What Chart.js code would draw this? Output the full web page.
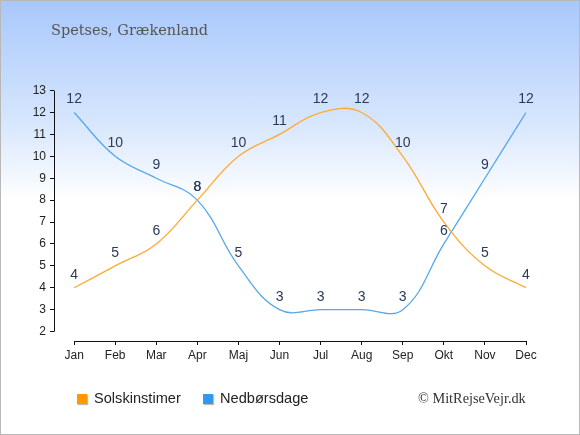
<!DOCTYPE html>
<html>
<head>
<meta charset="utf-8">
<script src="https://cdn.jsdelivr.net/npm/chart.js@4"></script>
<style>
  html, body { margin: 0; padding: 0; }
  #wrap {
    position: relative; width: 580px; height: 435px; box-sizing: border-box;
    border: 1px solid #b8b8b8; overflow: hidden;
    background: linear-gradient(to bottom, #a8c8fb 0px, #d6e6fd 120px, #ffffff 200px, #ffffff 435px);
  }
  #chart { position: absolute; left: -1px; top: -1px; }
  .title { position: absolute; left: 50px; top: 21px; font: 14.5px "DejaVu Serif", serif; color: #555; }
  .legend { position: absolute; top: 389px; font: 14.6px "Liberation Sans", Arial, sans-serif; color: #222; }
  .legend span.box { display: inline-block; width: 10px; height: 10px; margin-right: 7px; vertical-align: -1px; box-shadow: 1px 1px 1px #bbb; }
  .copy { position: absolute; left: 417px; top: 389px; font: 14.3px "Liberation Serif", serif; color: #333; }
</style>
</head>
<body>
<div id="wrap">
  <canvas id="chart" width="580" height="435"></canvas>
  <div class="title">Spetses, Grækenland</div>
  <div class="legend" style="left:76px"><span class="box" style="background:#ff9900"></span>Solskinstimer</div>
  <div class="legend" style="left:202px"><span class="box" style="background:#3399ee"></span>Nedbørsdage</div>
  <div class="copy">© MitRejseVejr.dk</div>
</div>
<script>
// ====== DATA ======
const months = ['Jan','Feb','Mar','Apr','Maj','Jun','Jul','Aug','Sep','Okt','Nov','Dec'];
const sunHours = [4, 5, 6, 8, 10, 11, 12, 12, 10, 7, 5, 4];
const rainDays = [12, 10, 9, 8, 5, 3, 3, 3, 3, 6, 9, 12];
const yTicks = [2,3,4,5,6,7,8,9,10,11,12,13];

const SUN_COLOR  = '#ffaa33';
const RAIN_COLOR = '#55a8ee';

function toPoints(arr){ return arr.map((v, i) => ({ x: i, y: v })); }

// axis lines drawn detached (y stops at 2, x starts at Jan)
const axisLines = {
  id: 'axisLines',
  afterDraw(chart){
    const { ctx, scales: { x, y } } = chart;
    ctx.save();
    ctx.strokeStyle = '#111';
    ctx.lineWidth = 1;
    ctx.beginPath();
    const ax = Math.round(x.left) + 0.5;
    ctx.moveTo(ax, y.getPixelForValue(13));
    ctx.lineTo(ax, y.getPixelForValue(2));
    const ay = Math.round(y.bottom) + 0.5;
    ctx.moveTo(x.getPixelForValue(0), ay);
    ctx.lineTo(x.getPixelForValue(11), ay);
    ctx.stroke();
    ctx.restore();
  }
};

// value labels above points
const valueLabels = {
  id: 'valueLabels',
  afterDatasetsDraw(chart){
    const { ctx } = chart;
    ctx.save();
    ctx.font = '14px "Liberation Sans", Arial, sans-serif';
    ctx.fillStyle = '#2a3a58';
    ctx.textAlign = 'center';
    ctx.textBaseline = 'middle';
    chart.data.datasets.forEach((ds, di) => {
      chart.getDatasetMeta(di).data.forEach((pt, i) => {
        ctx.fillText(String(ds.data[i].y), pt.x, pt.y - 13);
      });
    });
    ctx.restore();
  }
};

new Chart(document.getElementById('chart'), {
  type: 'line',
  data: {
    datasets: [
      { label: 'Solskinstimer', data: toPoints(sunHours), borderColor: SUN_COLOR, borderWidth: 1.3, pointRadius: 0, tension: 0.4, fill: false },
      { label: 'Nedbørsdage', data: toPoints(rainDays), borderColor: RAIN_COLOR, borderWidth: 1.3, pointRadius: 0, tension: 0.4, fill: false }
    ]
  },
  options: {
    responsive: false,
    animation: false,
    layout: { padding: { top: 90.6, right: 54, left: 0, bottom: 0 } },
    plugins: { legend: { display: false }, tooltip: { enabled: false } },
    scales: {
      x: {
        type: 'linear', min: -0.49, max: 11,
        afterBuildTicks(s){ s.ticks = months.map((_, i) => ({ value: i })); },
        afterFit(s){ s.height = 94; },
        ticks: { callback: v => months[v], color: '#222', font: { size: 12, family: '"Liberation Sans", Arial, sans-serif' }, padding: 3, maxRotation: 0, autoSkip: false },
        grid: { drawOnChartArea: false, tickLength: 4, color: '#111', offset: false },
        border: { display: false }
      },
      y: {
        min: 1.57, max: 13,
        afterBuildTicks(s){ s.ticks = yTicks.map(v => ({ value: v })); },
        afterFit(s){ s.width = 54; },
        ticks: { color: '#222', font: { size: 12, family: '"Liberation Sans", Arial, sans-serif' }, padding: 4 },
        grid: { drawOnChartArea: false, tickLength: 4, color: '#111' },
        border: { display: false }
      }
    }
  },
  plugins: [axisLines, valueLabels]
});
</script>
</body>
</html>
